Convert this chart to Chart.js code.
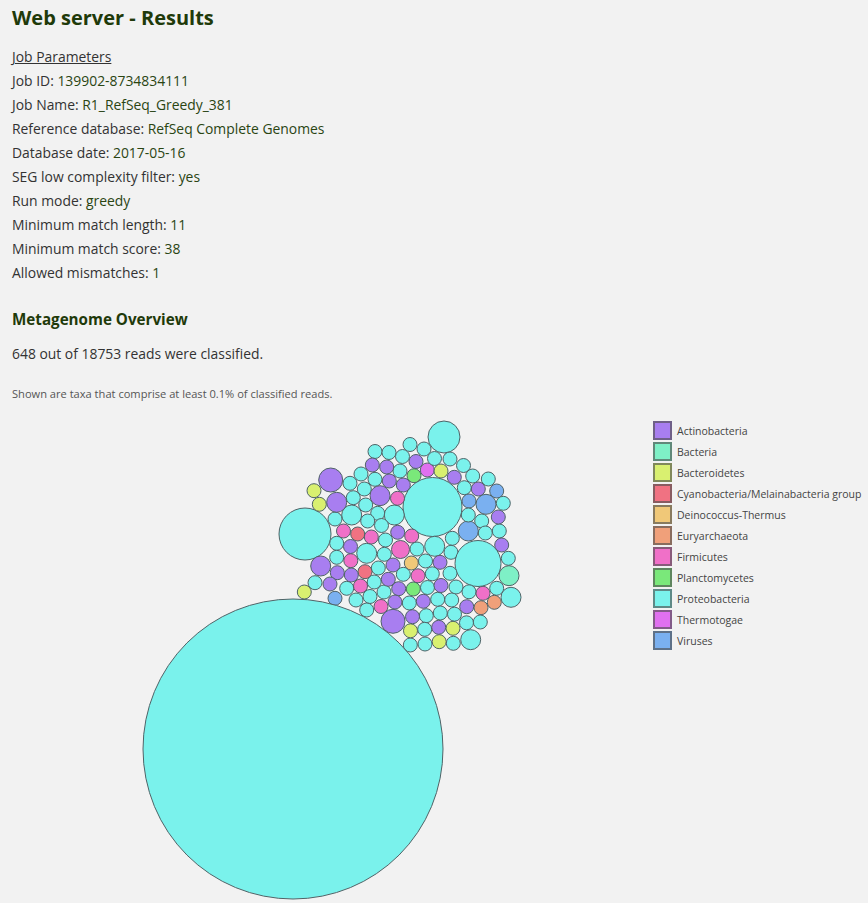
<!DOCTYPE html>
<html>
<head>
<meta charset="utf-8">
<title>Web server - Results</title>
<script src="https://cdn.jsdelivr.net/npm/chart.js@4.4.1/dist/chart.umd.min.js"></script>
<style>
    body {
        margin: 0;
        background: #f2f2f2;
        font-family: "Open Sans", "Noto Sans", sans-serif;
        color: #333;
    }
    .line {
        position: absolute;
        left: 12px;
        font-size: 13.9px;
        line-height: 20px;
        white-space: nowrap;
    }
    .val { color: #2a4512; }
    h1 {
        position: absolute;
        left: 12px;
        top: 4px;
        margin: 0;
        font-size: 20px;
        line-height: 28px;
        color: #1f3a0a;
    }
    h2 {
        position: absolute;
        left: 12px;
        top: 308px;
        margin: 0;
        font-size: 15.2px;
        line-height: 22px;
        color: #1f3a0a;
    }
    .note {
        position: absolute;
        left: 12px;
        top: 386px;
        font-size: 11.1px;
        color: #555;
        white-space: nowrap;
    }
    #chartBox {
        position: absolute;
        left: 140px;
        top: 415px;
        width: 400px;
        height: 488px;
    }
    #legend {
        position: absolute;
        left: 653px;
        top: 421px;
    }
    .item {
        height: 21px;
        display: flex;
        align-items: flex-start;
        font-size: 10.5px;
        color: #444;
    }
    .swatch {
        width: 15px;
        height: 15px;
        border: 2px solid rgba(80, 80, 80, 0.65);
        margin-right: 5px;
    }
    .item span { line-height: 20px; }
</style>
</head>
<body>
<h1>Web server - Results</h1>
<div class="line" style="top:47px;text-decoration:underline">Job Parameters</div>
<div class="line" style="top:71px">Job ID: <span class="val">139902-8734834111</span></div>
<div class="line" style="top:95px">Job Name: <span class="val">R1_RefSeq_Greedy_381</span></div>
<div class="line" style="top:119px">Reference database: <span class="val">RefSeq Complete Genomes</span></div>
<div class="line" style="top:143px">Database date: <span class="val">2017-05-16</span></div>
<div class="line" style="top:167px">SEG low complexity filter: <span class="val">yes</span></div>
<div class="line" style="top:191px">Run mode: <span class="val">greedy</span></div>
<div class="line" style="top:215px">Minimum match length: <span class="val">11</span></div>
<div class="line" style="top:239px">Minimum match score: <span class="val">38</span></div>
<div class="line" style="top:263px">Allowed mismatches: <span class="val">1</span></div>
<h2>Metagenome Overview</h2>
<div class="line" style="top:344px">648 out of 18753 reads were classified.</div>
<div class="note">Shown are taxa that comprise at least 0.1% of classified reads.</div>

<div id="chartBox"><canvas id="bubbleChart"></canvas></div>
<div id="legend"></div>

<script>
// Phyla shown in the overview and their fill colours
const categories = ['Actinobacteria', 'Bacteria', 'Bacteroidetes', 'Cyanobacteria/Melainabacteria group',
    'Deinococcus-Thermus', 'Euryarchaeota', 'Firmicutes', 'Planctomycetes', 'Proteobacteria',
    'Thermotogae', 'Viruses'];
const colors = ['#a87ef0', '#7ef0c6', '#d9f070', '#f07282', '#f0c878', '#f0a07a',
    '#f070c8', '#7ae87a', '#7af2ec', '#e070f0', '#7ab0f0'];

// Packed taxa: x, y in layout units, r = bubble radius
const actinobacteria = [
    {x: 276, y: 46.5, r: 7}, {x: 232.3, y: 50, r: 7}, {x: 246.7, y: 52, r: 7}, {x: 249.3, y: 66, r: 7},
    {x: 263.3, y: 70, r: 7}, {x: 314.3, y: 62.3, r: 7}, {x: 190.7, y: 65, r: 12}, {x: 240, y: 80.7, r: 10},
    {x: 196.7, y: 87.3, r: 10}, {x: 338.3, y: 74, r: 7}, {x: 358.3, y: 102, r: 7}, {x: 257.7, y: 117.3, r: 7},
    {x: 210.5, y: 131.5, r: 7}, {x: 361.7, y: 130, r: 7}, {x: 300, y: 147.3, r: 7}, {x: 180.7, y: 151, r: 10},
    {x: 197.3, y: 157.7, r: 7}, {x: 253, y: 150, r: 7}, {x: 211.3, y: 160, r: 7}, {x: 190, y: 169, r: 7},
    {x: 248.3, y: 164.3, r: 7}, {x: 258.7, y: 173.7, r: 7}, {x: 301, y: 170.5, r: 7}, {x: 255, y: 187, r: 7},
    {x: 283.3, y: 186.3, r: 7}, {x: 326.7, y: 191.7, r: 7}, {x: 253, y: 206.3, r: 12}, {x: 272.5, y: 201.7, r: 7},
    {x: 298.7, y: 212.3, r: 7}
];
const bacteria = [{x: 369, y: 160.7, r: 10}];
const bacteroidetes = [
    {x: 301, y: 56, r: 7}, {x: 174, y: 75.7, r: 7}, {x: 179.3, y: 89.3, r: 7}, {x: 164.3, y: 177, r: 7},
    {x: 270.5, y: 215.8, r: 7}, {x: 313, y: 213.3, r: 7}, {x: 299.2, y: 226.7, r: 7}
];
const cyanobacteria = [{x: 217.7, y: 119, r: 7}, {x: 225, y: 156.7, r: 7}];
const deinococcus = [{x: 271.3, y: 148, r: 7}];
const euryarchaeota = [{x: 341, y: 192.7, r: 7}, {x: 354.3, y: 187.3, r: 7}];
const firmicutes = [
    {x: 257.5, y: 83.3, r: 7}, {x: 203.5, y: 116, r: 7}, {x: 231.3, y: 122, r: 7}, {x: 271.7, y: 121, r: 7},
    {x: 260.5, y: 134.5, r: 9}, {x: 210.8, y: 145.7, r: 7}, {x: 278, y: 160.8, r: 7}, {x: 220.5, y: 171, r: 7},
    {x: 343, y: 178.3, r: 7}, {x: 241, y: 191.5, r: 7}
];
const planctomycetes = [{x: 274, y: 60.7, r: 7}, {x: 273.3, y: 174, r: 7}];
const proteobacteria = [
    {x: 304, y: 22, r: 16}, {x: 270, y: 29.5, r: 7}, {x: 284, y: 34, r: 7}, {x: 235, y: 36.5, r: 7},
    {x: 249, y: 37.5, r: 7}, {x: 262.5, y: 41.5, r: 7}, {x: 294.5, y: 43.5, r: 7}, {x: 310, y: 44, r: 7},
    {x: 323.5, y: 50.5, r: 7}, {x: 260, y: 56, r: 7}, {x: 221, y: 59, r: 7}, {x: 235, y: 64.3, r: 7},
    {x: 332.7, y: 61, r: 7}, {x: 348.3, y: 64, r: 7}, {x: 210, y: 68.3, r: 7}, {x: 224.3, y: 74, r: 7},
    {x: 292.5, y: 92, r: 29.5}, {x: 213.3, y: 82.7, r: 7}, {x: 225.7, y: 90, r: 7}, {x: 324.3, y: 72.7, r: 7},
    {x: 363.3, y: 88.3, r: 7}, {x: 328.3, y: 100, r: 7}, {x: 341.7, y: 106, r: 7}, {x: 165, y: 119, r: 26},
    {x: 211.7, y: 100, r: 10}, {x: 237.7, y: 98.3, r: 7}, {x: 254.3, y: 100, r: 10}, {x: 195, y: 104, r: 7},
    {x: 227.7, y: 106, r: 7}, {x: 241.5, y: 110.5, r: 7}, {x: 345.3, y: 118, r: 7}, {x: 359.3, y: 116, r: 7},
    {x: 312.3, y: 123.3, r: 7}, {x: 245.5, y: 125, r: 7}, {x: 196.7, y: 128.3, r: 7}, {x: 226.7, y: 138.3, r: 10},
    {x: 244.3, y: 139.3, r: 7}, {x: 277, y: 134, r: 7}, {x: 294.7, y: 131.3, r: 10}, {x: 311, y: 137.3, r: 7},
    {x: 338, y: 148.5, r: 23}, {x: 196.7, y: 142.3, r: 7}, {x: 285.5, y: 146, r: 7}, {x: 368.3, y: 143.3, r: 7},
    {x: 238.3, y: 153, r: 7}, {x: 263.3, y: 159.3, r: 7}, {x: 292.3, y: 158.8, r: 7}, {x: 310, y: 158.3, r: 7},
    {x: 175, y: 167.7, r: 7}, {x: 234.2, y: 167, r: 7}, {x: 206.7, y: 173.3, r: 7}, {x: 244, y: 177, r: 7},
    {x: 287.5, y: 172.5, r: 7}, {x: 316, y: 172, r: 7}, {x: 329, y: 176.8, r: 7}, {x: 356.7, y: 173.3, r: 7},
    {x: 371, y: 182.3, r: 10}, {x: 216, y: 185, r: 7}, {x: 230, y: 181.5, r: 7}, {x: 269.3, y: 188, r: 7},
    {x: 297.7, y: 184.3, r: 7}, {x: 311.7, y: 185, r: 7}, {x: 226.7, y: 195, r: 7}, {x: 286.3, y: 200.7, r: 7},
    {x: 300.3, y: 198, r: 7}, {x: 314.5, y: 199.2, r: 7}, {x: 326.5, y: 207.8, r: 7}, {x: 340.3, y: 207, r: 7},
    {x: 284.7, y: 214.3, r: 7}, {x: 330.7, y: 224.7, r: 10}, {x: 270.3, y: 230, r: 7}, {x: 285, y: 229, r: 7},
    {x: 313.3, y: 228.3, r: 7}, {x: 153, y: 334, r: 150}
];
const thermotogae = [{x: 287.3, y: 55, r: 7}];
const viruses = [
    {x: 356.7, y: 76, r: 7}, {x: 329, y: 86, r: 7}, {x: 346, y: 89.3, r: 10}, {x: 328.3, y: 116, r: 10},
    {x: 195, y: 183.3, r: 7}
];

const seriesData = [actinobacteria, bacteria, bacteroidetes, cyanobacteria, deinococcus, euryarchaeota,
    firmicutes, planctomycetes, proteobacteria, thermotogae, viruses];

document.addEventListener('DOMContentLoaded', () => {
    // Legend
    document.getElementById('legend').innerHTML = categories.map((name, i) => `
        <div class="item"><div class="swatch" style="background:${colors[i]}"></div><span>${name}</span></div>
    `).join('');

    const ctx = document.getElementById('bubbleChart').getContext('2d');
    new Chart(ctx, {
        type: 'bubble',
        data: {
            datasets: categories.map((name, i) => ({
                label: name,
                data: seriesData[i],
                backgroundColor: colors[i],
                borderColor: '#4e6266',
                borderWidth: 1,
                clip: false
            }))
        },
        options: {
            responsive: true,
            maintainAspectRatio: false,
            animation: false,
            // no extra padding for the big bubbles, keep the layout scale 1:1
            layout: { padding: 0, autoPadding: false },
            plugins: {
                legend: { display: false },
                tooltip: { enabled: false }
            },
            scales: {
                x: { type: 'linear', min: 0, max: 400, display: false },
                y: { type: 'linear', min: 0, max: 488, reverse: true, display: false }
            }
        }
    });
});
</script>
</body>
</html>
